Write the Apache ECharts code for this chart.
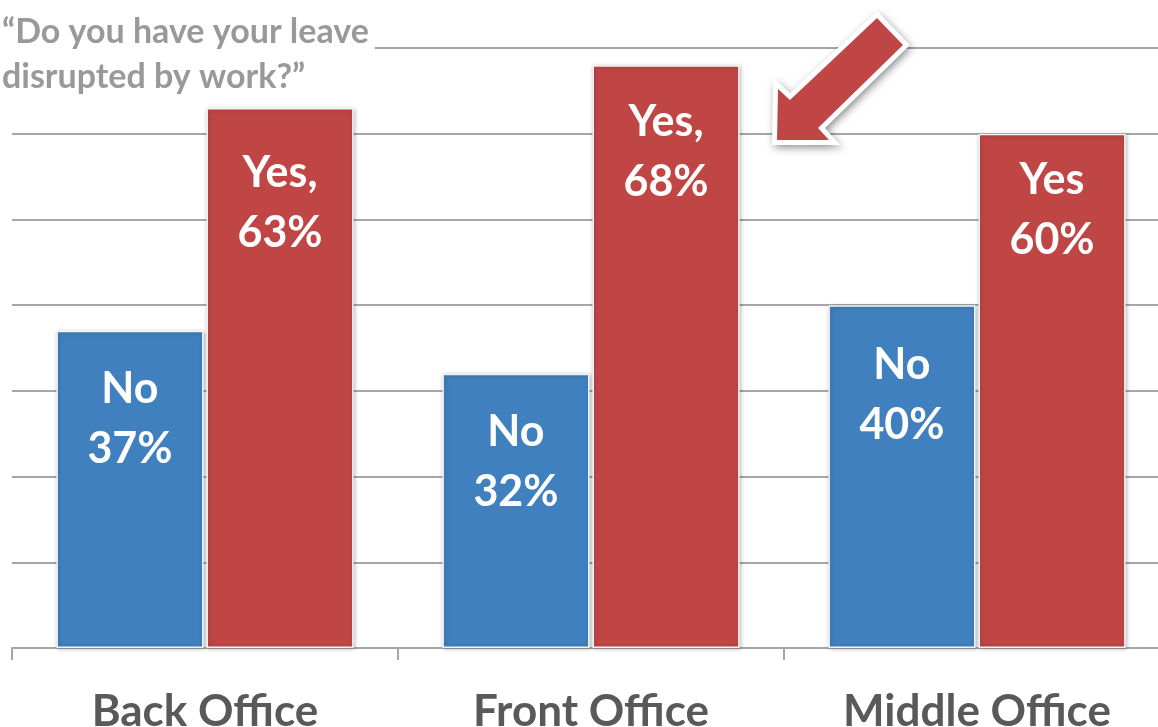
<!DOCTYPE html>
<html>
<head>
<meta charset="utf-8">
<script src="https://cdn.jsdelivr.net/npm/echarts@6/dist/echarts.min.js"></script>
<style>html,body{margin:0;padding:0;background:#fff;}#c{width:1158px;height:727px;}</style>
</head>
<body>
<div id="c"></div>
<script>
const categories = ['Back Office', 'Front Office', 'Middle Office'];
const noValues = [37, 32, 40];
const yesValues = [63, 68, 60];
const noLabels = ['No', 'No', 'No'];
const yesLabels = ['Yes,', 'Yes,', 'Yes'];
const titleText = '\u201cDo you have your leave\ndisrupted by work?\u201d';

// label placement tweaks (style only)
const noLabelDist = [28, 28, 30];
const yesLabelDist = [35, 27, 16];

const FONT = 'Lato';
const chart = echarts.init(document.getElementById('c'));

function makeData(values, dists) {
  return values.map((v, i) => ({ value: v, label: { distance: dists[i] } }));
}
function labelCfg(names) {
  return {
    show: true,
    position: 'insideTop',
    color: '#fff',
    fontFamily: FONT,
    fontWeight: 'bold',
    fontSize: 43,
    lineHeight: 60,
    formatter: p => names[p.dataIndex] + '\n' + p.value + '%'
  };
}
const barStyle = c => ({
  color: c, borderColor: '#f4f4f4', borderWidth: 1.5,
  shadowBlur: 4, shadowColor: 'rgba(0,0,0,0.25)', shadowOffsetX: 1, shadowOffsetY: 1
});

chart.setOption({
  animation: false,
  backgroundColor: '#fff',
  title: {
    text: titleText, left: 0, top: 8, padding: [2, 6, 2, 2],
    backgroundColor: '#fff',
    textStyle: { fontFamily: FONT, fontWeight: 'bold', fontSize: 34, lineHeight: 45, color: '#999999' }
  },
  grid: { left: 12, right: -12, top: 48, bottom: 79, containLabel: false, outerBoundsMode: 'none' },
  xAxis: {
    type: 'category', data: categories,
    axisLine: { lineStyle: { color: '#a6a6a6', width: 2 } },
    axisTick: { show: true, length: 12, lineStyle: { color: '#a6a6a6', width: 2 } },
    axisLabel: { margin: 42, color: '#595959', fontFamily: FONT, fontWeight: 'bold', fontSize: 44 }
  },
  yAxis: {
    type: 'value', min: 0, max: 70, interval: 10,
    axisLine: { show: false }, axisTick: { show: false }, axisLabel: { show: false },
    splitLine: { lineStyle: { color: '#a6a6a6', width: 2 } }
  },
  series: [
    { type: 'bar', name: 'No', data: makeData(noValues, noLabelDist), barGap: '2%', barCategoryGap: '23%',
      itemStyle: barStyle('#4180be'), label: labelCfg(noLabels) },
    { type: 'bar', name: 'Yes', data: makeData(yesValues, yesLabelDist),
      itemStyle: barStyle('#c04646'), label: labelCfg(yesLabels) }
  ],
  graphic: [{
    type: 'polygon', z: 100,
    shape: { points: [[777,140],[778,89],[790,100],[877,18],[903,45],[818,128],[829,140]] },
    style: { fill: '#c04646', stroke: '#fff', lineWidth: 10, lineJoin: 'miter',
      shadowBlur: 8, shadowColor: 'rgba(0,0,0,0.35)', shadowOffsetX: 2, shadowOffsetY: 3 }
  }, {
    type: 'polygon', z: 101,
    shape: { points: [[777,140],[778,89],[790,100],[877,18],[903,45],[818,128],[829,140]] },
    style: { fill: '#c04646' }
  }]
});
</script>
</body>
</html>
